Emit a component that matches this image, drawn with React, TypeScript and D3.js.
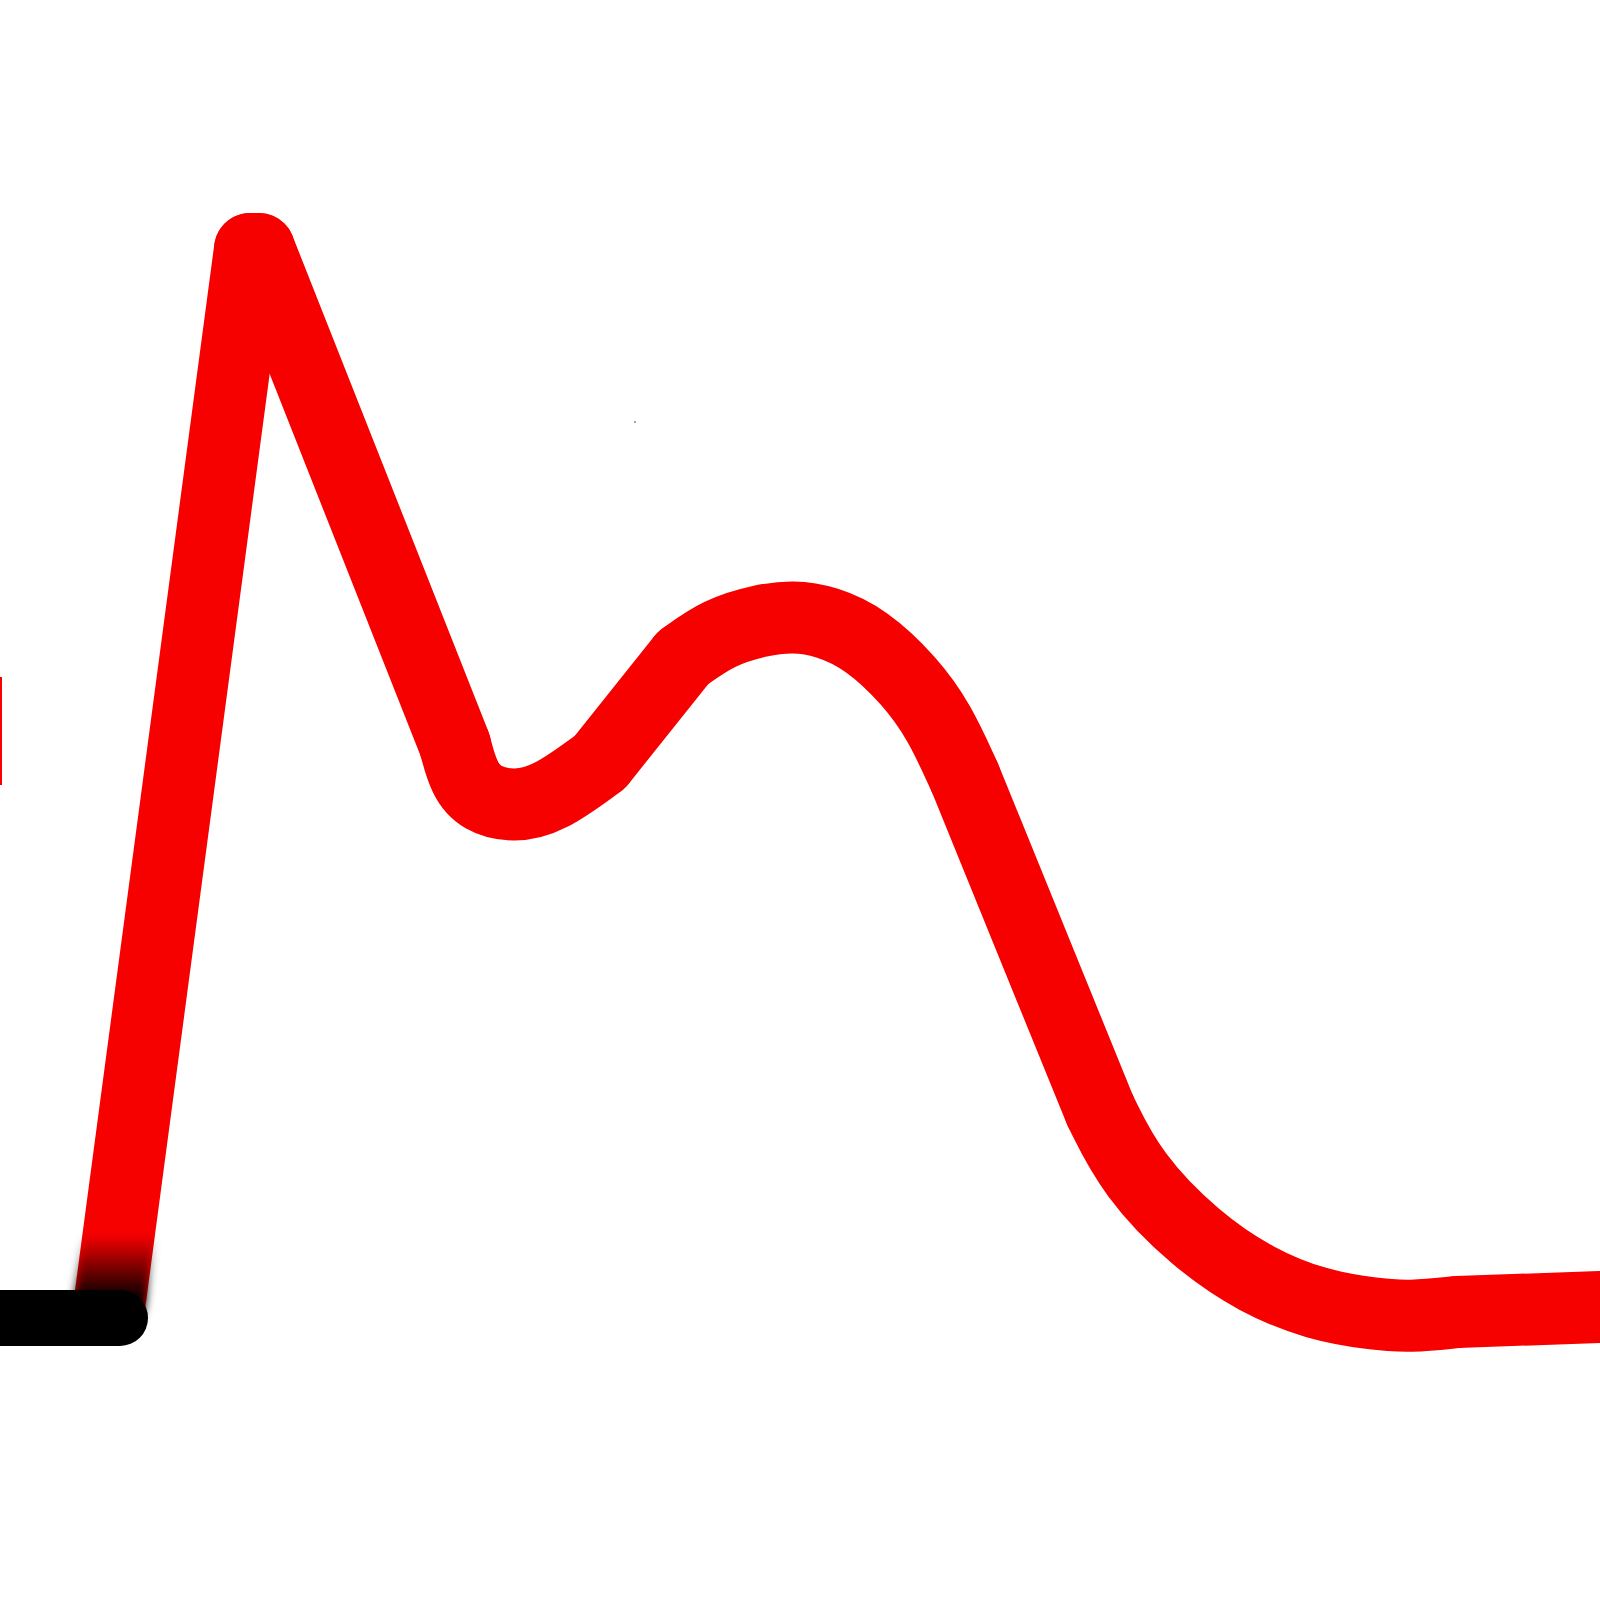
import * as d3 from 'd3';

// trace values (x in time units, y in signal units)
const redX = [2.2, 5.0, 5.18, 9.1, 9.28, 9.62, 10.26, 10.96, 12.0, 13.66, 14.38, 15.22, 15.86, 16.52, 17.32, 18.2, 18.78, 19.3, 22.0, 22.64, 23.92, 25.14, 26.34, 27.46, 28.2, 29.14, 32.0];
const redY = [6.0, 27.02, 27.02, 17.1, 16.42, 16.02, 15.86, 16.0, 16.76, 18.84, 19.36, 19.6, 19.68, 19.58, 19.22, 18.38, 17.58, 16.44, 9.8, 8.5, 7.2, 6.38, 5.9, 5.72, 5.66, 5.76, 5.86];
// which stretches of the trace are drawn smooth (start index, end index)
const smoothRuns = [[3, 8], [9, 17], [18, 25]];
const baselineX = [-1, 2.4];
const baselineY = [5.64, 5.64];
// small marker at the left edge
const markerY = [18.46, 16.3];

const W = 1600;
const H = 1600;

export default function App() {
  const x = d3.scaleLinear().domain([0, 32]).range([0, W]);
  const y = d3.scaleLinear().domain([0, 32]).range([H, 0]);

  const pts: [number, number][] = redX.map((v, i) => [v, redY[i]]);
  const straight = d3.line<[number, number]>().x(d => x(d[0])).y(d => y(d[1]));
  const smooth = d3.line<[number, number]>().x(d => x(d[0])).y(d => y(d[1])).curve(d3.curveBasis);

  // split the trace into straight and smooth pieces
  const pieces: string[] = [];
  let i = 0;
  while (i < pts.length - 1) {
    const run = smoothRuns.find(r => r[0] === i);
    if (run) {
      pieces.push(smooth(pts.slice(run[0], run[1] + 1)) || '');
      i = run[1];
    } else {
      pieces.push(straight(pts.slice(i, i + 2)) || '');
      i += 1;
    }
  }

  const base: [number, number][] = baselineX.map((v, k) => [v, baselineY[k]]);
  // short stretch at the foot of the rise that fades to black
  const footTop = y.invert(1200);
  const t = (footTop - redY[0]) / (redY[1] - redY[0]);
  const foot: [number, number][] = [
    [redX[0], redY[0]],
    [redX[0] + t * (redX[1] - redX[0]), footTop],
  ];

  const red = '#f70000';

  return (
    <svg width={W} height={H} style={{ position: 'absolute', left: 0, top: 0, background: '#fff' }}>
      <defs>
        <linearGradient id="fade" gradientUnits="userSpaceOnUse" x1={0} y1={1235} x2={0} y2={1300}>
          <stop offset="0" stopColor="#000" stopOpacity={0} />
          <stop offset="1" stopColor="#000" stopOpacity={1} />
        </linearGradient>
        <filter id="soft" filterUnits="userSpaceOnUse" x={0} y={1100} width={300} height={300}>
          <feGaussianBlur stdDeviation="4" />
        </filter>
      </defs>

      <rect x={0} y={y(markerY[0])} width={2} height={y(markerY[1]) - y(markerY[0])} fill={red} />
      <circle cx={x(12.7)} cy={y(23.56)} r={1} fill="#888" />

      <g fill="none" stroke={red} strokeWidth={72} strokeLinecap="round" strokeLinejoin="round">
        {pieces.map((d, k) => <path key={k} d={d} />)}
      </g>

      <path d={straight(base) || ''} fill="none" stroke="#000" strokeWidth={56} strokeLinecap="round" />
      <path d={straight(foot) || ''} fill="none" stroke="url(#fade)" strokeWidth={72} strokeLinecap="round" filter="url(#soft)" />
    </svg>
  );
}
